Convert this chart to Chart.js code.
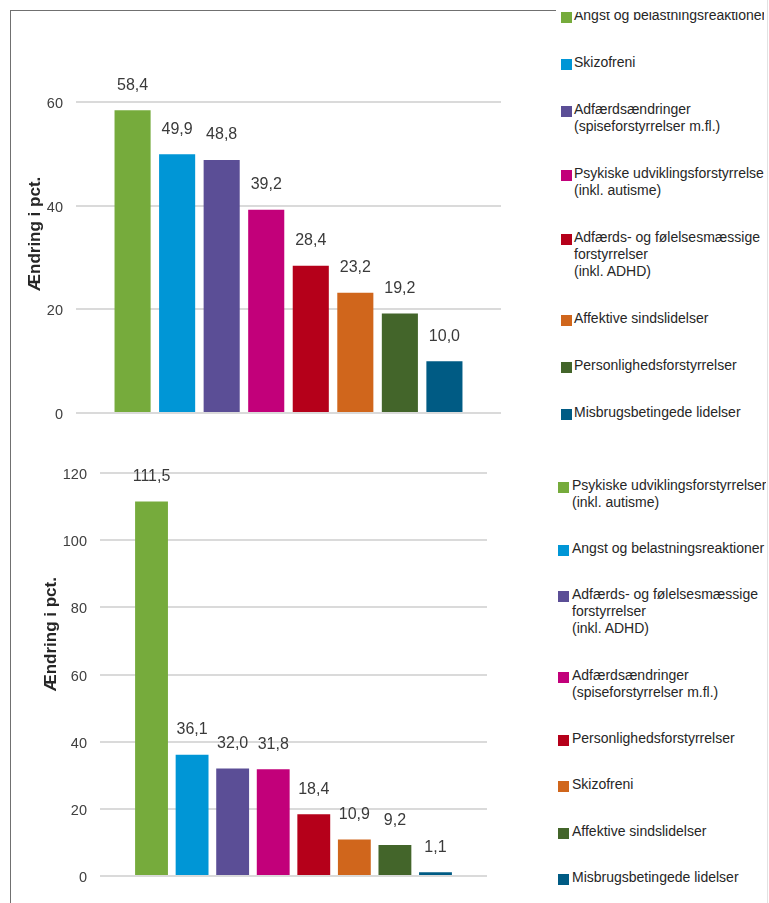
<!DOCTYPE html>
<html>
<head>
<meta charset="utf-8">
<script src="https://cdn.jsdelivr.net/npm/chart.js@4/dist/chart.umd.min.js"></script>
<style>
html,body{margin:0;padding:0;background:#fff;width:769px;height:903px;overflow:hidden;font-family:"Liberation Sans",Arial,sans-serif}
body{position:relative}
.frame-l{position:absolute;left:10px;top:10px;width:1px;height:893px;background:#707070;z-index:2}
.frame-t{position:absolute;left:10px;top:10px;width:546px;height:1px;background:#707070;z-index:2}
.frame-r{position:absolute;left:767px;top:0;width:1px;height:903px;background:#e2e2e2;z-index:2}
canvas{position:absolute;left:0}
#c1{top:0}
#c2{top:440px}
.legend{position:absolute;overflow:hidden;font-size:14px;line-height:17px;color:#262626}
#lg1{left:561px;top:12px;width:203px;height:420px}
#lg2{left:558px;top:440px;width:208px;height:463px}
.item{position:relative;white-space:pre}
.sw{position:absolute;left:0;top:5px;width:11px;height:11px}
</style>
</head>
<body>
<div class="frame-l"></div>
<div class="frame-t"></div>
<div class="frame-r"></div>
<canvas id="c1" width="540" height="440"></canvas>
<canvas id="c2" width="540" height="463"></canvas>
<div class="legend" id="lg1"></div>
<div class="legend" id="lg2"></div>
<script>
// ---- data ----
const barColors = ['#76AB3C', '#0096D6', '#5B4E96', '#C2007A', '#B5001A', '#D0661C', '#43652A', '#005B84'];

const topCategories = [
  'Angst og belastningsreaktioner',
  'Skizofreni',
  'Adfærdsændringer\n(spiseforstyrrelser m.fl.)',
  'Psykiske udviklingsforstyrrelser\n(inkl. autisme)',
  'Adfærds- og følelsesmæssige\nforstyrrelser\n(inkl. ADHD)',
  'Affektive sindslidelser',
  'Personlighedsforstyrrelser',
  'Misbrugsbetingede lidelser'
];
const topValues = [58.4, 49.9, 48.8, 39.2, 28.4, 23.2, 19.2, 10.0];
const topTicks = [0, 20, 40, 60];

const bottomCategories = [
  'Psykiske udviklingsforstyrrelser\n(inkl. autisme)',
  'Angst og belastningsreaktioner',
  'Adfærds- og følelsesmæssige\nforstyrrelser\n(inkl. ADHD)',
  'Adfærdsændringer\n(spiseforstyrrelser m.fl.)',
  'Personlighedsforstyrrelser',
  'Skizofreni',
  'Affektive sindslidelser',
  'Misbrugsbetingede lidelser'
];
const bottomValues = [111.5, 36.1, 32.0, 31.8, 18.4, 10.9, 9.2, 1.1];
const bottomTicks = [0, 20, 40, 60, 80, 100, 120];

const axisTitleText = 'Ændring i pct.';

// ---- rendering ----
const FONT = '"Liberation Sans", Arial, sans-serif';
const fmt = v => v.toFixed(1).replace('.', ',');

const valueLabels = {
  id: 'valueLabels',
  afterDatasetsDraw(chart, args, opts) {
    const ctx = chart.ctx;
    const meta = chart.getDatasetMeta(0);
    const ds = chart.data.datasets[0];
    ctx.save();
    ctx.font = '16px ' + FONT;
    ctx.fillStyle = '#3a3a3a';
    ctx.textAlign = 'center';
    ctx.textBaseline = 'middle';
    meta.data.forEach((bar, i) => {
      ctx.fillText(fmt(ds.data[i].y), bar.x, bar.y - opts.gap);
    });
    ctx.restore();
  }
};

const axisTitle = {
  id: 'axisTitle',
  afterDraw(chart, args, opts) {
    const a = chart.chartArea;
    const ctx = chart.ctx;
    ctx.save();
    ctx.translate(a.left - opts.dx, a.top + (a.bottom - a.top) * opts.fy);
    ctx.rotate(-Math.PI / 2);
    ctx.font = 'bold 17px ' + FONT;
    ctx.fillStyle = '#262626';
    ctx.textAlign = 'center';
    ctx.textBaseline = 'middle';
    ctx.fillText(opts.text, 0, 0);
    ctx.restore();
  }
};

function makeChart(id, values, ticks, cfg) {
  const n = values.length;
  return new Chart(document.getElementById(id), {
    type: 'bar',
    data: {
      datasets: [{
        data: values.map((v, i) => ({ x: i, y: v })),
        backgroundColor: barColors,
        borderWidth: 0,
        barPercentage: 0.9,
        categoryPercentage: 0.9
      }]
    },
    options: {
      responsive: false,
      animation: false,
      layout: { padding: cfg.padding },
      plugins: {
        legend: { display: false },
        tooltip: { enabled: false },
        valueLabels: { gap: 25 },
        axisTitle: { text: axisTitleText, dx: cfg.titleDx, fy: cfg.titleFy }
      },
      scales: {
        x: {
          type: 'linear',
          display: false,
          offset: false,
          min: -1.27,
          max: n - 1 + 1.27,
          afterBuildTicks(scale) { scale.ticks = values.map((v, i) => ({ value: i })); }
        },
        y: {
          min: ticks[0],
          max: ticks[ticks.length - 1],
          ticks: {
            stepSize: ticks[1] - ticks[0],
            padding: 13,
            labelOffset: 2,
            color: '#404040',
            font: { size: 14.5, family: FONT }
          },
          grid: { color: '#dadada', lineWidth: 2, drawTicks: false },
          border: { display: false },
          afterFit(scale) { scale.width = cfg.axisWidth; }
        }
      }
    },
    plugins: [valueLabels, axisTitle]
  });
}

makeChart('c1', topValues, topTicks, {
  padding: { top: 102, bottom: 27, left: 0, right: 39 },
  axisWidth: 76, titleDx: 41, titleFy: 0.424
});
makeChart('c2', bottomValues, bottomTicks, {
  padding: { top: 33, bottom: 27, left: 0, right: 53 },
  axisWidth: 100, titleDx: 49, titleFy: 0.40
});

function buildLegend(id, cats, firstTop, gap, swLeftPad) {
  const el = document.getElementById(id);
  cats.forEach((c, i) => {
    const item = document.createElement('div');
    item.className = 'item';
    item.style.paddingLeft = swLeftPad + 'px';
    item.style.marginTop = (i === 0 ? firstTop : gap) + 'px';
    const sw = document.createElement('span');
    sw.className = 'sw';
    sw.style.background = barColors[i];
    item.appendChild(sw);
    item.appendChild(document.createTextNode(c));
    el.appendChild(item);
  });
}
buildLegend('lg1', topCategories, -5.5, 30.1, 13);
buildLegend('lg2', bottomCategories, 36.5, 29.4, 14);
</script>
</body>
</html>
